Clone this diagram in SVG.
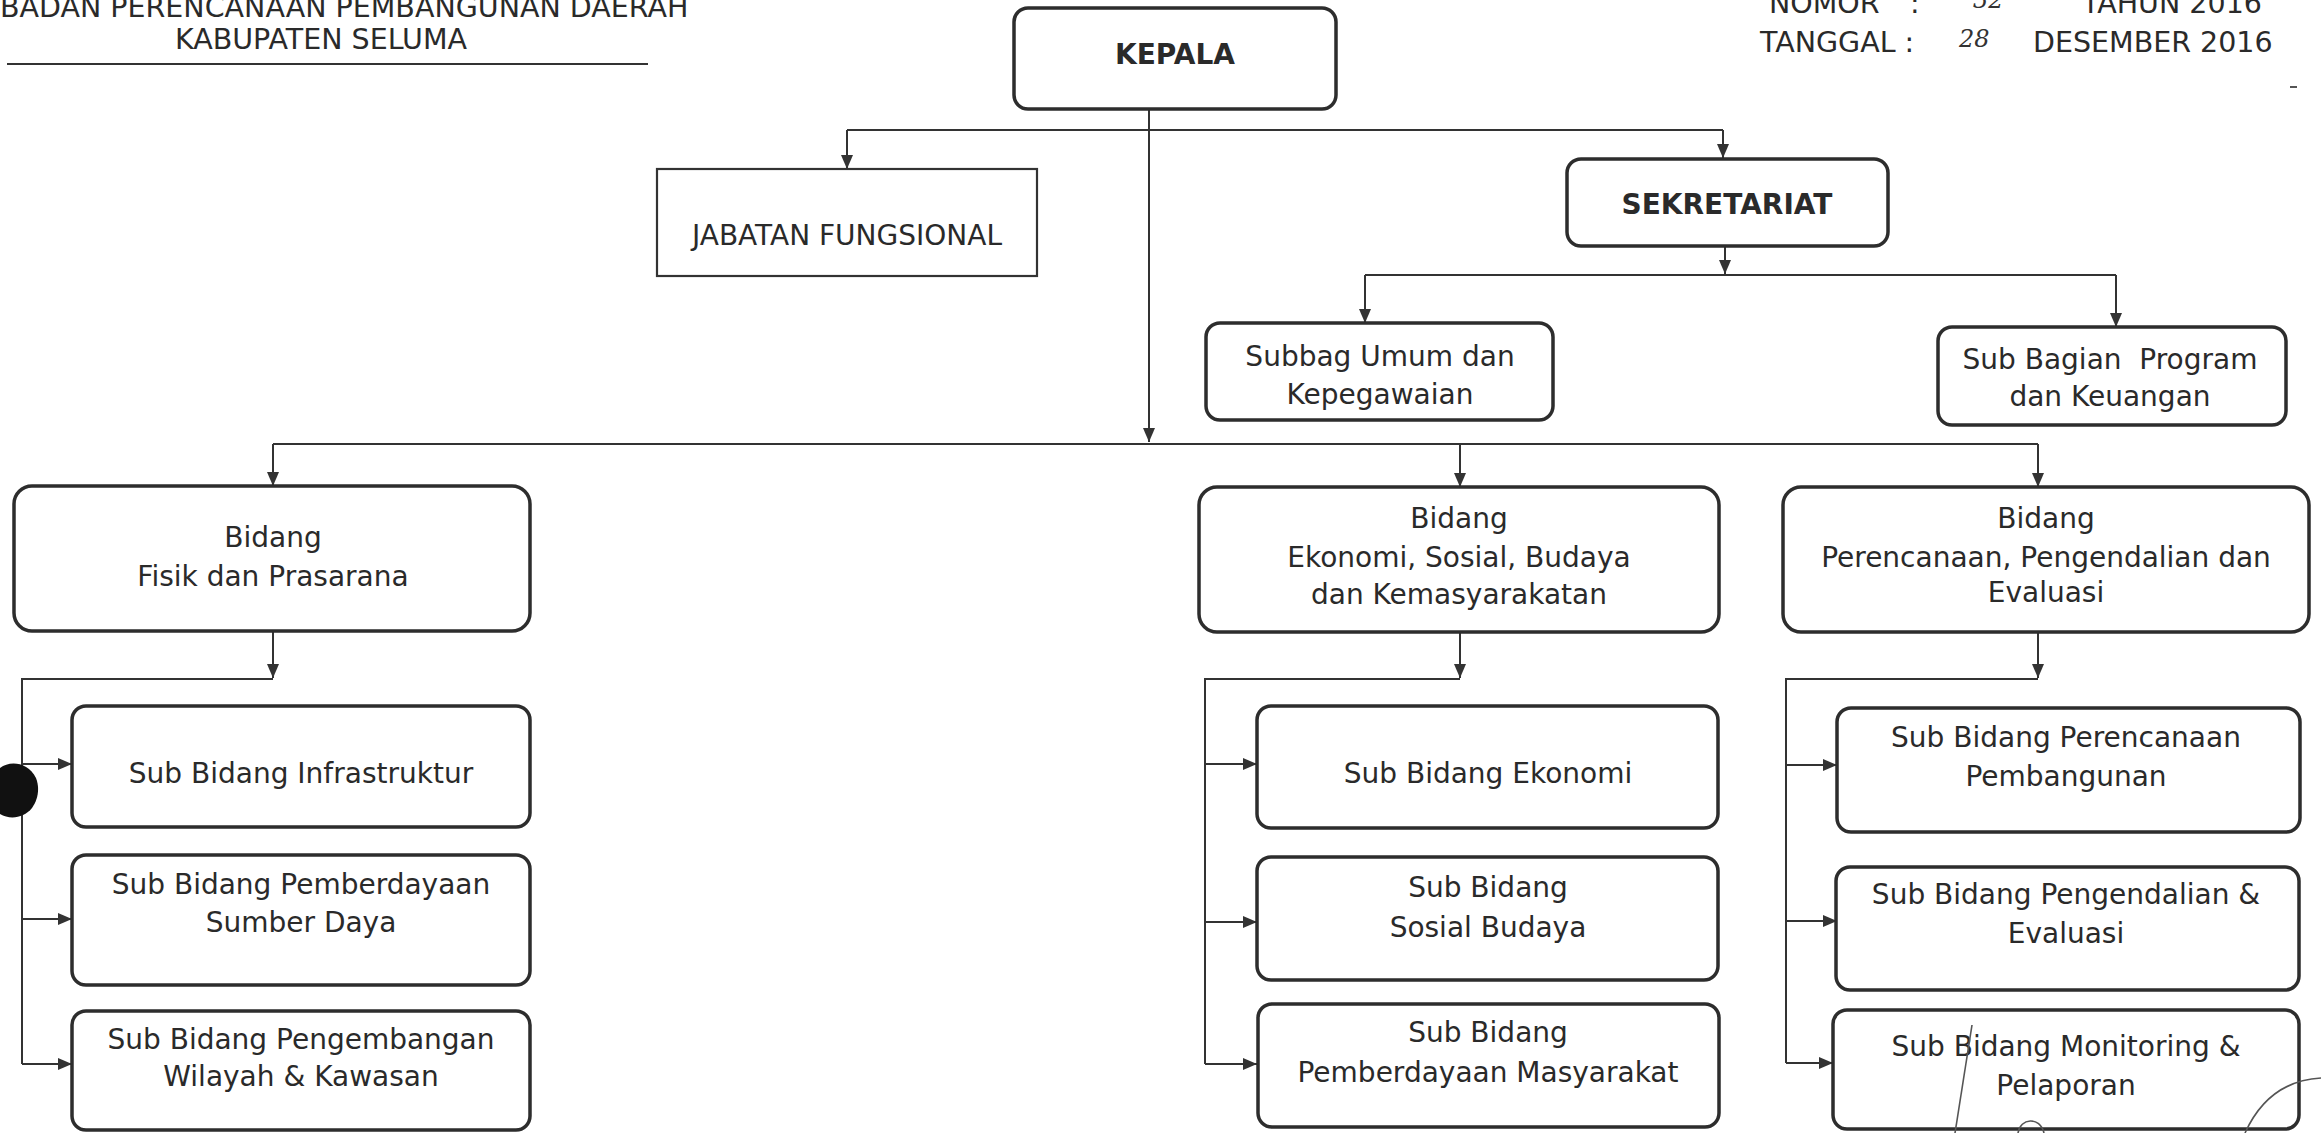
<svg xmlns="http://www.w3.org/2000/svg" width="2321" height="1133" viewBox="0 0 2321 1133">
<style>
.box { fill: #ffffff; stroke: #2d2d2d; stroke-width: 3.5; }
.sq { fill: #ffffff; stroke: #333333; stroke-width: 2.2; }
.t { font-family: "DejaVu Sans", Verdana, sans-serif; font-size: 28px; fill: #2a2a2a; text-anchor: middle; }
.h { font-family: "DejaVu Sans", Verdana, sans-serif; font-size: 28.5px; fill: #2a2a2a; }
.b { font-weight: bold; }
.hw { font-family: "DejaVu Serif", serif; font-style: italic; font-size: 24px; fill: #333333; }
.conn { fill: none; stroke: #333333; stroke-width: 2; }
.mark { fill: none; stroke: #555555; stroke-width: 1.6; }
</style>
<defs>
<marker id="arr" markerUnits="userSpaceOnUse" markerWidth="14" markerHeight="12" refX="14" refY="6" orient="auto">
<path d="M0,0 L14,6 L0,12 z" fill="#333333"/>
</marker>
</defs>
<rect width="2321" height="1133" fill="#ffffff"/>

<g id="header">
<text class="h" x="0" y="17">BADAN PERENCANAAN PEMBANGUNAN DAERAH</text>
<text class="h" x="175" y="49">KABUPATEN SELUMA</text>
<line x1="7" y1="64" x2="648" y2="64" stroke="#333333" stroke-width="1.8"/>
<text class="h" x="1769" y="13">NOMOR</text>
<text class="h" x="1910" y="13">:</text>
<text class="hw" x="1973" y="8">32</text>
<text class="h" x="2082" y="13">TAHUN 2016</text>
<text class="h" x="1760" y="52">TANGGAL :</text>
<text class="hw" x="1959" y="47">28</text>
<text class="h" x="2033" y="52">DESEMBER 2016</text>
</g>

<g id="connectors">
<path class="conn" d="M1149,110 V442" marker-end="url(#arr)"/>
<path class="conn" d="M847,130 H1723"/>
<path class="conn" d="M847,130 V169" marker-end="url(#arr)"/>
<path class="conn" d="M1723,130 V158" marker-end="url(#arr)"/>
<path class="conn" d="M1725,246 V274" marker-end="url(#arr)"/>
<path class="conn" d="M1365,275 H2116"/>
<path class="conn" d="M1365,275 V323" marker-end="url(#arr)"/>
<path class="conn" d="M2116,275 V327" marker-end="url(#arr)"/>
<path class="conn" d="M273,444 H2038"/>
<path class="conn" d="M273,444 V486" marker-end="url(#arr)"/>
<path class="conn" d="M1460,444 V487" marker-end="url(#arr)"/>
<path class="conn" d="M2038,444 V487" marker-end="url(#arr)"/>
<path class="conn" d="M273,631 V678" marker-end="url(#arr)"/>
<path class="conn" d="M1460,632 V678" marker-end="url(#arr)"/>
<path class="conn" d="M2038,632 V678" marker-end="url(#arr)"/>
<path class="conn" d="M273,679 H22 V1064"/>
<path class="conn" d="M22,764 H72" marker-end="url(#arr)"/>
<path class="conn" d="M22,919 H72" marker-end="url(#arr)"/>
<path class="conn" d="M22,1064 H72" marker-end="url(#arr)"/>
<path class="conn" d="M1460,679 H1205 V1064"/>
<path class="conn" d="M1205,764 H1257" marker-end="url(#arr)"/>
<path class="conn" d="M1205,922 H1257" marker-end="url(#arr)"/>
<path class="conn" d="M1205,1064 H1257" marker-end="url(#arr)"/>
<path class="conn" d="M2038,679 H1786 V1063"/>
<path class="conn" d="M1786,765 H1837" marker-end="url(#arr)"/>
<path class="conn" d="M1786,921 H1837" marker-end="url(#arr)"/>
<path class="conn" d="M1786,1063 H1833" marker-end="url(#arr)"/>
</g>

<g id="kepala">
<rect class="box" x="1014" y="8" width="322" height="101" rx="14"/>
<text class="t b" x="1175" y="64">KEPALA</text>
</g>
<g id="jabatan-fungsional">
<rect class="sq" x="657" y="169" width="380" height="107"/>
<text class="t" x="847" y="245">JABATAN FUNGSIONAL</text>
</g>
<g id="sekretariat">
<rect class="box" x="1567" y="159" width="321" height="87" rx="14"/>
<text class="t b" x="1727" y="214">SEKRETARIAT</text>
</g>
<g id="subbag-umum">
<rect class="box" x="1206" y="323" width="347" height="97" rx="14"/>
<text class="t" x="1380" y="366">Subbag Umum dan</text>
<text class="t" x="1380" y="404">Kepegawaian</text>
</g>
<g id="subbag-program">
<rect class="box" x="1938" y="327" width="348" height="98" rx="14"/>
<text class="t" x="2110" y="369" xml:space="preserve">Sub Bagian  Program</text>
<text class="t" x="2110" y="406">dan Keuangan</text>
</g>

<g id="bidang-fisik">
<rect class="box" x="14" y="486" width="516" height="145" rx="18"/>
<text class="t" x="273" y="547">Bidang</text>
<text class="t" x="273" y="586">Fisik dan Prasarana</text>
</g>
<g id="bidang-ekonomi">
<rect class="box" x="1199" y="487" width="520" height="145" rx="18"/>
<text class="t" x="1459" y="528">Bidang</text>
<text class="t" x="1459" y="567">Ekonomi, Sosial, Budaya</text>
<text class="t" x="1459" y="604">dan Kemasyarakatan</text>
</g>
<g id="bidang-perencanaan">
<rect class="box" x="1783" y="487" width="526" height="145" rx="18"/>
<text class="t" x="2046" y="528">Bidang</text>
<text class="t" x="2046" y="567">Perencanaan, Pengendalian dan</text>
<text class="t" x="2046" y="602">Evaluasi</text>
</g>

<g id="sub-infrastruktur">
<rect class="box" x="72" y="706" width="458" height="121" rx="14"/>
<text class="t" x="301" y="783">Sub Bidang Infrastruktur</text>
</g>
<g id="sub-pemberdayaan-sd">
<rect class="box" x="72" y="855" width="458" height="130" rx="14"/>
<text class="t" x="301" y="894">Sub Bidang Pemberdayaan</text>
<text class="t" x="301" y="932">Sumber Daya</text>
</g>
<g id="sub-pengembangan">
<rect class="box" x="72" y="1011" width="458" height="119" rx="14"/>
<text class="t" x="301" y="1049">Sub Bidang Pengembangan</text>
<text class="t" x="301" y="1086">Wilayah &amp; Kawasan</text>
</g>

<g id="sub-ekonomi">
<rect class="box" x="1257" y="706" width="461" height="122" rx="14"/>
<text class="t" x="1488" y="783">Sub Bidang Ekonomi</text>
</g>
<g id="sub-sosial-budaya">
<rect class="box" x="1257" y="857" width="461" height="123" rx="14"/>
<text class="t" x="1488" y="897">Sub Bidang</text>
<text class="t" x="1488" y="937">Sosial Budaya</text>
</g>
<g id="sub-pemberdayaan-masyarakat">
<rect class="box" x="1258" y="1004" width="461" height="123" rx="14"/>
<text class="t" x="1488" y="1042">Sub Bidang</text>
<text class="t" x="1488" y="1082">Pemberdayaan Masyarakat</text>
</g>

<g id="sub-perencanaan">
<rect class="box" x="1837" y="708" width="463" height="124" rx="14"/>
<text class="t" x="2066" y="747">Sub Bidang Perencanaan</text>
<text class="t" x="2066" y="786">Pembangunan</text>
</g>
<g id="sub-pengendalian">
<rect class="box" x="1836" y="867" width="463" height="123" rx="14"/>
<text class="t" x="2066" y="904">Sub Bidang Pengendalian &amp;</text>
<text class="t" x="2066" y="943">Evaluasi</text>
</g>
<g id="sub-monitoring">
<rect class="box" x="1833" y="1010" width="466" height="119" rx="14"/>
<text class="t" x="2066" y="1056">Sub Bidang Monitoring &amp;</text>
<text class="t" x="2066" y="1095">Pelaporan</text>
</g>

<g id="scan-marks">
<path d="M0,768 C10,760 28,762 36,778 C40,788 38,800 32,808 C24,818 10,820 0,814 Z" fill="#111111"/>
<path class="mark" d="M1972,1025 L1955,1133"/>
<path class="mark" d="M2245,1133 C2260,1100 2285,1080 2321,1078"/>
<path class="mark" d="M2018,1133 C2020,1118 2040,1116 2044,1133"/>
<line x1="2290" y1="87" x2="2297" y2="87" stroke="#555555" stroke-width="2"/>
</g>
</svg>
